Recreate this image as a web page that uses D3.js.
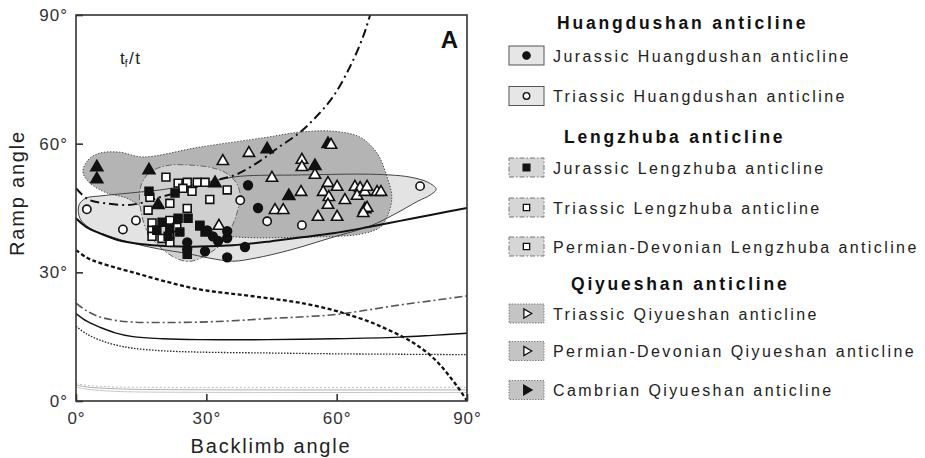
<!DOCTYPE html>
<html>
<head>
<meta charset="utf-8">
<script src="https://cdn.jsdelivr.net/npm/d3@7"></script>
<style>
  body { margin: 0; background: #fff; }
  svg { display: block; font-family: "Liberation Sans", Arial, sans-serif; }
</style>
</head>
<body>
<svg id="chart" width="925" height="458"></svg>
<script>
// ticks (degrees)
const xTicks = [0, 30, 60, 90];
const yTicks = [0, 30, 60, 90];

// measured points: [backlimb angle, ramp angle]
const jurassicHuangdushan = [
  [39.6, 50.3], [41.9, 45.0], [38.9, 35.9], [34.8, 33.5], [29.7, 34.9], [25.6, 37.0],
  [25.6, 35.4], [34.8, 38.0], [34.8, 39.6], [31.5, 38.4], [30.2, 39.8], [32.7, 37.3]
];
const triassicHuangdushan = [
  [2.5, 44.7], [10.8, 40.0], [13.8, 42.1], [37.8, 46.8], [44.0, 41.9], [52.0, 41.0], [79.2, 50.1]
];
const jurassicLengzhuba = [
  [16.8, 48.9], [22.8, 48.5], [19.8, 41.7], [21.6, 40.3], [23.5, 42.6], [25.8, 42.6],
  [28.5, 41.0], [29.7, 39.4], [25.6, 34.2], [21.2, 38.4], [23.9, 39.4], [18.6, 39.8], [28.5, 40.8]
];
const triassicLengzhuba = [
  [20.7, 52.2], [23.5, 50.8], [25.6, 51.0], [27.9, 51.0], [29.7, 51.0], [24.6, 49.6],
  [26.7, 48.9], [34.8, 49.2], [30.8, 47.0], [21.6, 46.1]
];
const permianDevonianLengzhuba = [
  [16.6, 44.5], [25.6, 44.9], [21.6, 42.1], [17.5, 41.5], [17.5, 39.8], [17.5, 38.4],
  [21.6, 38.9], [21.6, 37.0], [19.8, 37.9], [23.2, 40.5], [17.0, 47.5]
];
const triassicQiyueshan = [
  [33.8, 55.9], [39.8, 57.8], [52.0, 56.2], [52.0, 54.5], [45.1, 52.0], [55.0, 52.7],
  [58.0, 50.8], [60.1, 49.9], [51.8, 48.7], [56.9, 48.7], [58.2, 47.5], [58.0, 45.7],
  [61.9, 46.8], [58.7, 59.7]
];
const permianDevonianQiyueshan = [
  [64.2, 49.9], [65.4, 49.6], [64.7, 47.8], [66.5, 48.7], [67.0, 49.9], [69.3, 48.7],
  [70.2, 48.7], [67.0, 45.0], [66.1, 43.8], [55.7, 42.9], [60.1, 42.9], [45.8, 44.5],
  [47.7, 44.5], [32.9, 40.8]
];
const cambrianQiyueshan = [
  [4.8, 54.5], [4.8, 51.7], [16.8, 53.8], [18.9, 45.7], [32.0, 50.8], [44.0, 58.7],
  [49.0, 47.8], [55.0, 54.8], [58.0, 59.9], [66.5, 44.7]
];

// outlined fields of each anticline
const fieldHuangdushan = [
  [0.7, 45.7], [2.3, 47.3], [5.5, 47.8], [12.4, 48.5], [19.3, 49.2], [26.2, 50.3],
  [32.5, 51.5], [37.8, 52.4], [51.6, 52.7], [65.4, 52.9], [72.3, 52.7], [76.9, 52.2],
  [81.0, 51.0], [82.9, 49.4], [81.5, 48.0], [78.7, 46.6], [73.4, 43.6], [67.7, 40.8],
  [58.5, 38.0], [49.3, 35.2], [41.2, 33.3], [36.1, 32.6], [30.8, 33.3], [25.1, 34.5],
  [19.3, 35.4], [13.1, 36.8], [7.8, 38.4], [3.2, 40.3], [0.9, 42.6]
];
const fieldQiyueshan = [
  [1.6, 53.4], [2.8, 56.2], [5.5, 57.8], [10.1, 58.0], [15.4, 56.9], [28.5, 59.2],
  [44.0, 61.5], [51.6, 62.7], [59.2, 62.9], [65.4, 61.5], [69.3, 57.8], [71.6, 52.2],
  [72.7, 47.5], [71.6, 42.9], [70.0, 40.5], [65.4, 38.9], [51.6, 38.2], [37.8, 38.2],
  [28.5, 39.4], [19.3, 43.3], [15.2, 45.2], [11.7, 47.3], [7.1, 48.5], [3.2, 50.8]
];
const fieldLengzhuba = [
  [14.7, 49.2], [16.1, 52.4], [18.2, 54.0], [21.6, 55.0], [26.2, 55.0], [30.8, 54.5],
  [34.3, 53.3], [36.8, 51.0], [37.8, 48.0], [37.1, 44.0], [35.7, 40.3], [33.6, 36.8],
  [30.8, 34.5], [27.4, 32.8], [25.1, 32.6], [22.1, 33.8], [18.9, 36.3], [16.3, 39.8], [15.0, 44.0]
];

// tf/t model curves
const curveA = [
  [0, 49.6], [2.8, 47.0], [6.7, 46.1], [11.3, 45.7], [14.7, 46.1], [19.3, 47.5], [26.2, 49.4],
  [32.5, 51.5], [37.1, 52.9], [42.4, 56.0], [46.3, 58.9], [51.6, 62.7], [55.5, 66.5],
  [59.2, 71.0], [63.1, 78.0], [66.1, 85.0], [67.7, 90.0], [68.6, 93.0]
];
const curveB = [
  [0, 42.6], [2.5, 40.5], [5.5, 39.1], [9.4, 37.6], [14.7, 36.6], [21.6, 36.1], [28.5, 36.0],
  [36.1, 36.3], [44.7, 37.2], [51.6, 38.1], [59.2, 39.1], [67.0, 40.5], [74.6, 42.0],
  [82.2, 43.5], [90, 45.0]
];
const curveC = [
  [0, 35.2], [2.5, 33.4], [5.5, 32.2], [13.1, 30.0], [20.9, 27.8], [28.5, 26.0], [36, 25.0],
  [44.0, 24.0], [51.6, 22.9], [59.2, 21.2], [62.4, 20.2], [67.0, 18.7], [71, 17.0],
  [75.3, 14.9], [78.5, 13.0], [81.5, 10.7], [84, 8.2], [86.1, 5.6], [88.2, 2.8], [90, 0]
];
const curveD = [
  [0, 22.8], [2.5, 21.0], [5.5, 19.6], [9, 18.8], [13.1, 18.4], [20, 18.3], [28.5, 18.4],
  [36, 18.7], [44, 19.2], [51.6, 19.6], [59.2, 20.1], [67.0, 21.2], [74.6, 22.4], [82, 23.4], [90, 24.5]
];
const curveE = [
  [0, 20.4], [2.5, 18.6], [5.5, 17.2], [9, 15.9], [13.1, 15.0], [20, 14.5], [28.5, 14.3],
  [44, 14.3], [59.2, 14.5], [74.6, 14.9], [82, 15.3], [90, 15.8]
];
const curveF = [
  [0, 17.4], [2.5, 15.6], [5.5, 14.2], [9, 13.1], [13.1, 12.3], [20, 11.7], [28.5, 11.4],
  [44, 11.2], [60, 11.0], [75, 10.9], [90, 10.8]
];
const curveG1 = [[0, 4.0], [3, 3.6], [8, 3.3], [15, 3.2], [90, 3.2]];
const curveG2 = [[0, 3.7], [3, 3.2], [8, 2.9], [15, 2.7], [90, 2.6]];
const curveG3 = [[0, 3.2], [3, 2.7], [8, 2.3], [15, 2.1], [90, 2.0]];

// legend texts
const legendHeadings = ['Huangdushan anticline', 'Lengzhuba anticline', 'Qiyueshan anticline'];
const legendLabels = [
  'Jurassic Huangdushan anticline',
  'Triassic Huangdushan anticline',
  'Jurassic Lengzhuba anticline',
  'Triassic Lengzhuba anticline',
  'Permian-Devonian Lengzhuba anticline',
  'Triassic Qiyueshan anticline',
  'Permian-Devonian Qiyueshan anticline',
  'Cambrian Qiyueshan anticline'
];

// ---------------------------------------------------------------
const svg = d3.select('#chart');
const plotBox = { left: 76, right: 467, top: 15, bottom: 401 };

const x = d3.scaleLinear().domain([0, 90]).range([plotBox.left, plotBox.right]);
const y = d3.scaleLinear().domain([0, 90]).range([plotBox.bottom, plotBox.top]);

svg.append('defs').append('clipPath').attr('id', 'plotClip')
  .append('rect')
  .attr('x', plotBox.left).attr('y', plotBox.top)
  .attr('width', plotBox.right - plotBox.left)
  .attr('height', plotBox.bottom - plotBox.top);

const plot = svg.append('g').attr('clip-path', 'url(#plotClip)');

const closedShape = d3.line().x(d => x(d[0])).y(d => y(d[1])).curve(d3.curveCatmullRomClosed.alpha(0.5));
const openCurve = d3.line().x(d => x(d[0])).y(d => y(d[1])).curve(d3.curveCatmullRom.alpha(0.5));

// fields: fills and outlines
const fieldColors = { huang: '#e3e3e3', qiyue: '#b4b4b4', leng: '#d0d0d0' };

plot.append('path').attr('d', closedShape(fieldHuangdushan)).attr('fill', fieldColors.huang);
plot.append('path').attr('d', closedShape(fieldQiyueshan)).attr('fill', fieldColors.qiyue)
  .attr('stroke', '#444').attr('stroke-width', 1).attr('stroke-dasharray', '1.3,1.7');
plot.append('path').attr('d', closedShape(fieldLengzhuba)).attr('fill', fieldColors.leng)
  .attr('stroke', '#666').attr('stroke-width', 1).attr('stroke-dasharray', '6,2,1.5,2');
plot.append('path').attr('d', closedShape(fieldHuangdushan)).attr('fill', 'none')
  .attr('stroke', '#444').attr('stroke-width', 1);

// model curves
const curveStyles = [
  { data: curveG3, color: '#c8c8c8', width: 1, dash: null },
  { data: curveG2, color: '#b0b0b0', width: 1, dash: null },
  { data: curveG1, color: '#bdbdbd', width: 1, dash: '2,2' },
  { data: curveF, color: '#222', width: 1.3, dash: '1.5,1.5' },
  { data: curveE, color: '#111', width: 1.4, dash: null },
  { data: curveD, color: '#555', width: 1.6, dash: '8,3,2,3' },
  { data: curveC, color: '#111', width: 2.3, dash: '4,2.5' },
  { data: curveB, color: '#111', width: 2, dash: null },
  { data: curveA, color: '#111', width: 2, dash: '9,4,2,4' }
];
curveStyles.forEach(c => {
  plot.append('path')
    .attr('d', openCurve(c.data))
    .attr('fill', 'none')
    .attr('stroke', c.color)
    .attr('stroke-width', c.width)
    .attr('stroke-dasharray', c.dash);
});

// points
const points = svg.append('g');
function drawPoints(data, type, size, fill) {
  points.append('g').selectAll('path').data(data).join('path')
    .attr('transform', d => `translate(${x(d[0])},${y(d[1])})`)
    .attr('d', d3.symbol().type(type).size(size))
    .attr('fill', fill)
    .attr('stroke', '#111')
    .attr('stroke-width', 1.6);
}
drawPoints(cambrianQiyueshan, d3.symbolTriangle, 62, '#111');
drawPoints(triassicQiyueshan, d3.symbolTriangle, 56, '#fff');
drawPoints(permianDevonianQiyueshan, d3.symbolTriangle, 56, '#fff');
drawPoints(permianDevonianLengzhuba, d3.symbolSquare, 62, '#fff');
drawPoints(triassicLengzhuba, d3.symbolSquare, 62, '#fff');
drawPoints(jurassicLengzhuba, d3.symbolSquare, 62, '#111');
drawPoints(jurassicHuangdushan, d3.symbolCircle, 60, '#111');
drawPoints(triassicHuangdushan, d3.symbolCircle, 54, '#fff');

// frame
svg.append('rect')
  .attr('x', plotBox.left).attr('y', plotBox.top)
  .attr('width', plotBox.right - plotBox.left)
  .attr('height', plotBox.bottom - plotBox.top)
  .attr('fill', 'none').attr('stroke', '#333').attr('stroke-width', 1.6);

// axes
const fmt = d => d + '\u00b0';
const xAxis = svg.append('g')
  .attr('transform', `translate(0,${plotBox.bottom})`)
  .call(d3.axisBottom(x).tickValues(xTicks).tickFormat(fmt).tickSize(-7).tickPadding(11));
const yAxis = svg.append('g')
  .attr('transform', `translate(${plotBox.left},0)`)
  .call(d3.axisLeft(y).tickValues(yTicks).tickFormat(fmt).tickSize(-7).tickPadding(8));
[xAxis, yAxis].forEach(a => {
  a.select('.domain').remove();
  a.selectAll('.tick line').attr('stroke', '#333').attr('stroke-width', 1.6);
  a.selectAll('.tick text')
    .attr('font-family', '"Liberation Sans", Arial, sans-serif')
    .attr('font-size', 17).attr('fill', '#333').style('letter-spacing', '1px');
});

// axis titles
svg.append('text')
  .attr('x', 271).attr('y', 453)
  .attr('text-anchor', 'middle')
  .attr('font-size', 20).attr('fill', '#222').style('letter-spacing', '1.8px')
  .text('Backlimb angle');
svg.append('text')
  .attr('transform', 'translate(24,193) rotate(-90)')
  .attr('text-anchor', 'middle')
  .attr('font-size', 20).attr('fill', '#222').style('letter-spacing', '1.8px')
  .text('Ramp angle');

// panel letter and tf/t note
svg.append('text')
  .attr('x', 458).attr('y', 48).attr('text-anchor', 'end')
  .attr('font-size', 24).attr('font-weight', 'bold').attr('fill', '#111')
  .text('A');
const note = svg.append('text').attr('x', 120).attr('y', 64).attr('font-size', 17).attr('fill', '#222');
note.append('tspan').text('t');
note.append('tspan').attr('font-size', 10).attr('dy', 3).text('f');
note.append('tspan').attr('dy', -3).attr('dx', 1.5).text('/');
note.append('tspan').attr('dx', 1.5).text('t');

// legend
const legend = svg.append('g');
const headingPos = [[557, 29], [564, 143], [571, 289.5]];
legendHeadings.forEach((h, i) => {
  legend.append('text')
    .attr('x', headingPos[i][0]).attr('y', headingPos[i][1])
    .attr('font-size', 17.5).attr('font-weight', 'bold').attr('fill', '#111')
    .style('letter-spacing', '2.8px')
    .text(h);
});

const itemY = [55.5, 96, 167.5, 207.5, 246.5, 313.5, 351, 390];
const itemGroup = [0, 0, 1, 1, 1, 2, 2, 2];
const boxStyles = [
  { fill: '#e6e6e6', stroke: '#555', dash: null },
  { fill: '#d6d6d6', stroke: '#777', dash: '5,2,1.5,2' },
  { fill: '#c4c4c4', stroke: '#777', dash: '1.3,1.5' }
];
const itemSymbol = [
  { type: d3.symbolCircle, size: 42, fill: '#111', rot: 0 },
  { type: d3.symbolCircle, size: 34, fill: '#fff', rot: 0 },
  { type: d3.symbolSquare, size: 46, fill: '#111', rot: 0 },
  { type: d3.symbolSquare, size: 40, fill: '#fff', rot: 0 },
  { type: d3.symbolSquare, size: 40, fill: '#fff', rot: 0 },
  { type: d3.symbolTriangle, size: 36, fill: '#fff', rot: 90 },
  { type: d3.symbolTriangle, size: 36, fill: '#fff', rot: 90 },
  { type: d3.symbolTriangle, size: 40, fill: '#111', rot: 90 }
];
legendLabels.forEach((label, i) => {
  const cy = itemY[i];
  const st = boxStyles[itemGroup[i]];
  legend.append('rect')
    .attr('x', 509).attr('y', cy - 9.5).attr('width', 35).attr('height', 19)
    .attr('fill', st.fill).attr('stroke', st.stroke).attr('stroke-width', 1)
    .attr('stroke-dasharray', st.dash);
  const s = itemSymbol[i];
  legend.append('path')
    .attr('transform', `translate(526.5,${cy}) rotate(${s.rot})`)
    .attr('d', d3.symbol().type(s.type).size(s.size))
    .attr('fill', s.fill).attr('stroke', '#111').attr('stroke-width', 1.3);
  legend.append('text')
    .attr('x', 553).attr('y', cy + 6)
    .attr('font-size', 16).attr('fill', '#222')
    .style('letter-spacing', '2.4px')
    .text(label);
});
</script>
</body>
</html>
